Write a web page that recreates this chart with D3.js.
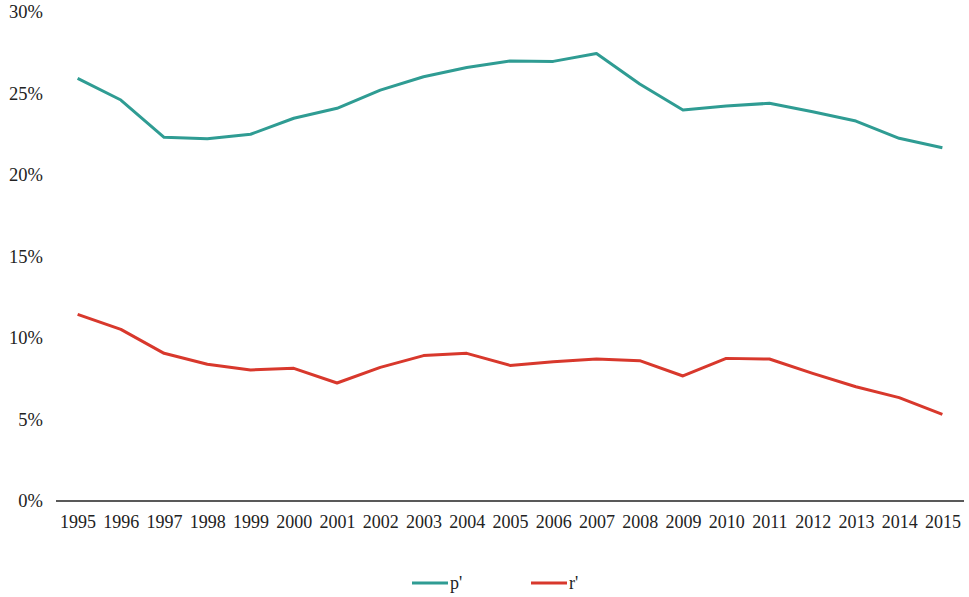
<!DOCTYPE html>
<html><head><meta charset="utf-8">
<script src="https://cdn.jsdelivr.net/npm/d3@7"></script>
<style>body{margin:0;background:#fff}svg{display:block}text{font-family:"Liberation Serif","Times New Roman",serif;fill:#222}</style>
</head><body><svg id="c" width="969" height="597"></svg>
<script>
const years = [1995,1996,1997,1998,1999,2000,2001,2002,2003,2004,2005,2006,2007,2008,2009,2010,2011,2012,2013,2014,2015];
const pPrime = [25.93,24.6,22.31,22.23,22.5,23.48,24.09,25.21,26.03,26.6,27.0,26.97,27.46,25.58,23.99,24.23,24.4,23.88,23.31,22.25,21.67];
const rPrime = [11.45,10.53,9.06,8.39,8.04,8.14,7.24,8.2,8.92,9.06,8.32,8.55,8.71,8.61,7.67,8.75,8.71,7.83,7.01,6.34,5.32];
const yTicks = [0,5,10,15,20,25,30];
const seriesNames = ["p'","r'"];
const colors = ["#2f9c93","#d8382c"];

const svg = d3.select("#c");
const x = d3.scalePoint().domain(years).range([56,964]).padding(0.5);
const y = d3.scaleLinear().domain([0,30]).range([501,12]);

// y tick labels
svg.append("g").selectAll("text").data(yTicks).join("text")
  .attr("x",43).attr("y",d=>y(d)).attr("dy","0.35em").attr("text-anchor","end")
  .style("font-size","18.5px").text(d=>d+"%");

// x axis
const xa = svg.append("g").attr("transform","translate(0,501)")
  .call(d3.axisBottom(x).tickSize(0).tickPadding(14));
xa.select(".domain").attr("stroke","#222").attr("stroke-width",1.6).attr("d","M56,0H964");
xa.selectAll("text").style("font-size","18px").style("font-family","Liberation Serif, serif").attr("fill","#222");

const line = d3.line().x((d,i)=>x(years[i])).y(d=>y(d));
[pPrime,rPrime].forEach((s,k)=>{
  svg.append("path").datum(s).attr("d",line).attr("fill","none")
    .attr("stroke",colors[k]).attr("stroke-width",3).attr("stroke-linejoin","round");
});

// legend
const lg = [{x:412},{x:531}];
lg.forEach((l,k)=>{
  svg.append("line").attr("x1",l.x).attr("x2",l.x+36).attr("y1",583).attr("y2",583)
    .attr("stroke",colors[k]).attr("stroke-width",3);
  svg.append("text").attr("x",l.x+38).attr("y",583).attr("dy","0.35em")
    .style("font-size","18px").text(seriesNames[k]);
});
</script></body></html>
